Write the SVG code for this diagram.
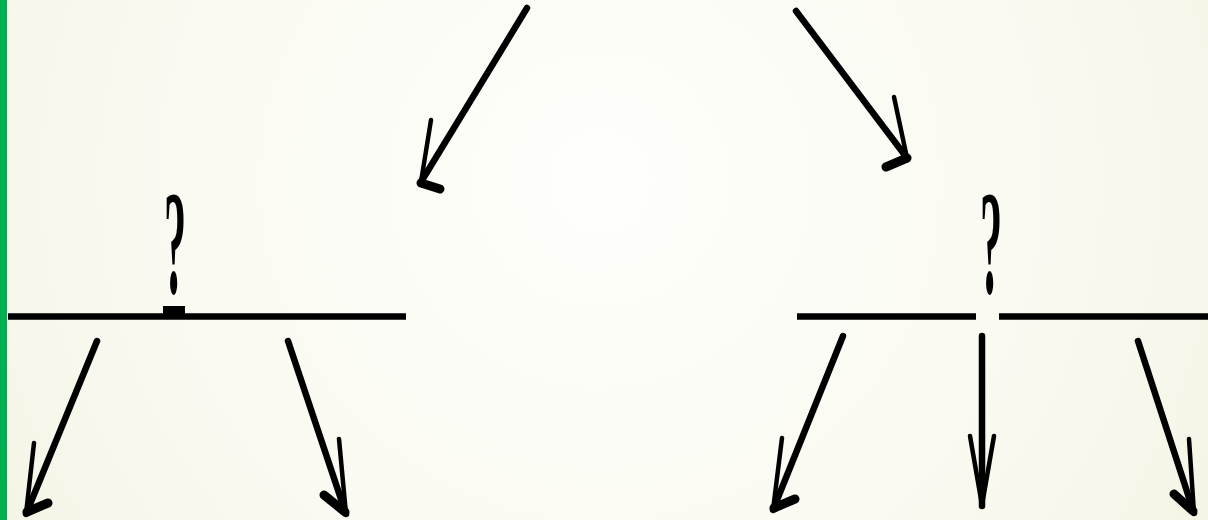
<svg xmlns="http://www.w3.org/2000/svg" width="1208" height="520" viewBox="0 0 1208 520">
<defs>
<radialGradient id="bg" cx="600" cy="180" r="700" gradientUnits="userSpaceOnUse">
<stop offset="0" stop-color="#fefefb"/>
<stop offset="0.6" stop-color="#fafaf2"/>
<stop offset="1" stop-color="#f4f4e6"/>
</radialGradient>
<style>
.shaft{fill:none;stroke:#000;stroke-width:6.5;stroke-linecap:round;stroke-linejoin:round}
.barb{fill:none;stroke:#000;stroke-width:4.5;stroke-linecap:round;stroke-linejoin:round}
.foot{fill:none;stroke:#000;stroke-width:9;stroke-linecap:round}
.bar{stroke:#000;stroke-width:6.5}
.q{font-family:"Liberation Serif","DejaVu Serif",serif;font-size:148px;font-weight:bold;fill:#000}
</style>
</defs>
<rect width="1208" height="520" fill="url(#bg)"/>
<rect x="0" y="0" width="7" height="520" fill="#00b050"/>

<g id="left-split">
<line class="bar" x1="8" y1="316.5" x2="406" y2="316.5"/>
<rect x="163" y="306" width="22" height="12" fill="#000"/>
<text class="q" transform="translate(175,293) scale(0.3,1)" text-anchor="middle">?</text>
</g>

<g id="right-split">
<line class="bar" x1="797" y1="316.5" x2="976" y2="316.5"/>
<line class="bar" x1="999" y1="316.5" x2="1208" y2="316.5"/>
<text class="q" transform="translate(991,293) scale(0.3,1)" text-anchor="middle">?</text>
</g>

<g id="connectors">
<g id="a-top-left">
<path class="shaft" d="M527,8 L421,182"/>
<path class="barb" d="M431,120 L421,182"/>
<path class="foot" d="M421,183 L440,189"/>
</g>
<g id="a-top-right">
<path class="shaft" d="M796,11 L907,158"/>
<path class="barb" d="M894,97 L907,158"/>
<path class="foot" d="M907,158 L886,167"/>
</g>
<g id="a-ll">
<path class="shaft" d="M97,341 L26,514"/>
<path class="barb" d="M34,443 L26,514"/>
<path class="foot" d="M27,512 L48,503"/>
</g>
<g id="a-lr">
<path class="shaft" d="M288,341 L346,514"/>
<path class="barb" d="M339,439 L346,514"/>
<path class="foot" d="M345,512 L324,495"/>
</g>
<g id="a-rl">
<path class="shaft" d="M843,336 L773,510"/>
<path class="barb" d="M782,438 L773,510"/>
<path class="foot" d="M774,508 L795,499"/>
</g>
<g id="a-rm">
<path class="shaft" d="M982,336 L982,506"/>
<path class="barb" d="M970,436 L982,505 L994,436"/>
</g>
<g id="a-rr">
<path class="shaft" d="M1138,341 L1194,513"/>
<path class="barb" d="M1189,439 L1194,513"/>
<path class="foot" d="M1193,511 L1174,494"/>
</g>
</g>
</svg>
